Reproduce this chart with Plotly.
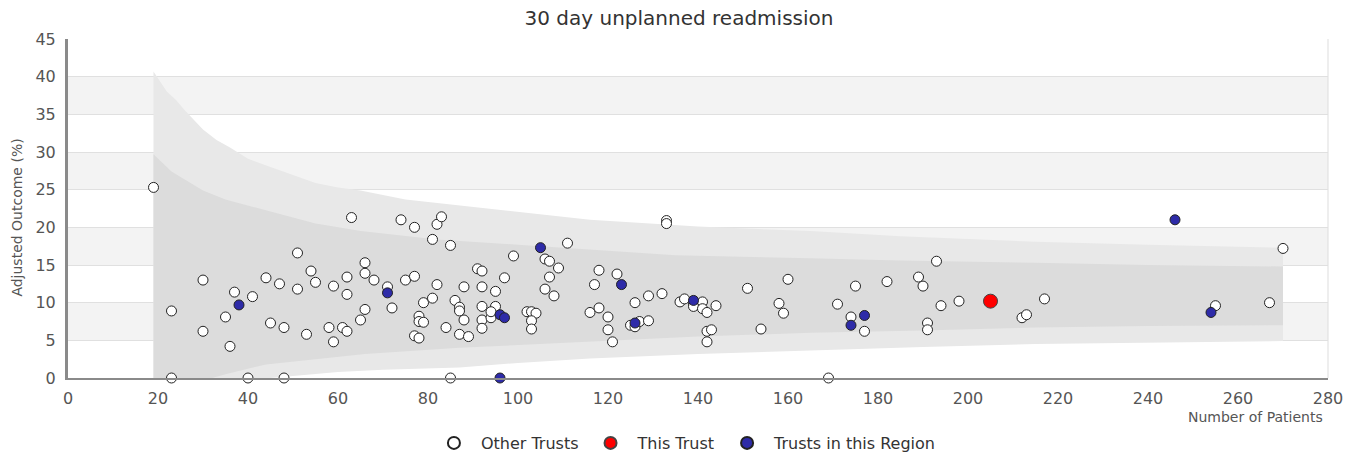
import plotly.graph_objects as go

# ---------------- data ----------------
other_n = [19, 23, 23, 30, 30, 35, 36, 37, 41, 40, 44, 45, 47, 48, 48, 51, 51, 53, 54, 55,
           58, 59, 59, 61, 62, 62, 62, 63, 65, 66, 66, 66, 68, 71, 72, 74, 75, 77, 77, 77,
           78, 78, 78, 79, 79, 81, 81, 82, 83, 82, 84, 85, 85, 86, 87, 87, 88, 88, 87, 89,
           91, 92, 92, 92, 92, 92, 95, 95, 94, 94, 97, 99, 102, 103, 104, 103, 103, 106, 107, 109,
           107, 106, 108, 111, 116, 117, 118, 118, 120, 120, 121, 122, 126, 125, 126, 127, 129, 129, 132, 133,
           133, 136, 137, 139, 139, 141, 141, 142, 142, 143, 142, 144, 151, 154, 158, 159, 160, 169, 171, 174,
           175, 177, 182, 189, 190, 193, 194, 191, 191, 198, 212, 213, 217, 255, 267, 270]
other_pct = [25.3, 8.9, 0.0, 13.0, 6.2, 8.1, 4.2, 11.4, 10.8, 0.0, 13.3, 7.3, 12.5, 6.7, 0.0, 16.6, 11.8, 5.8, 14.2, 12.7,
             6.7, 12.2, 4.8, 6.7, 6.2, 13.4, 11.1, 21.3, 7.7, 15.3, 13.9, 9.1, 13.0, 12.1, 9.3, 21.0, 13.0, 20.0, 13.5, 5.6,
             5.3, 8.2, 7.5, 7.4, 10.0, 18.4, 10.6, 20.4, 21.4, 12.4, 6.7, 17.6, 0.0, 10.3, 9.4, 8.9, 12.1, 7.7, 5.8, 5.5,
             14.5, 14.2, 12.1, 9.5, 7.7, 6.6, 11.5, 9.5, 8.0, 8.8, 13.3, 16.2, 8.8, 8.8, 8.6, 7.6, 6.5, 15.8, 15.5, 14.6,
             13.4, 11.8, 10.9, 17.9, 8.7, 12.4, 14.3, 9.3, 8.1, 6.4, 4.8, 13.8, 10.0, 7.0, 6.8, 7.5, 10.9, 7.6, 11.2, 20.9,
             20.5, 10.1, 10.5, 9.8, 9.5, 10.1, 9.2, 8.7, 6.2, 6.4, 4.8, 9.6, 11.9, 6.5, 9.9, 8.6, 13.1, 0.0, 9.8, 8.1,
             12.2, 6.2, 12.8, 13.4, 12.2, 15.5, 9.6, 7.3, 6.4, 10.2, 8.0, 8.4, 10.5, 9.6, 10.0, 17.2]

region_n = [38, 71, 96, 97, 96, 105, 123, 126, 139, 174, 177, 246, 254]
region_pct = [9.7, 11.3, 8.4, 8.0, 0.0, 17.3, 12.4, 7.3, 10.3, 7.0, 8.3, 21.0, 8.7]

this_n = [205]
this_pct = [10.2]

# funnel control limits
outer_upper_n = [19, 22, 24, 26, 30, 33, 36, 40, 45, 50, 55, 60, 65, 75, 90, 100, 116, 140, 165, 185, 215, 240, 270]
outer_upper = [40.7, 38.0, 36.9, 35.5, 33.0, 31.6, 30.6, 29.1, 28.0, 27.0, 25.9, 25.3, 24.9, 23.7, 22.7, 22.0,
               21.0, 20.1, 19.5, 18.8, 18.1, 17.7, 17.3]
outer_lower_n = [19, 45, 50, 60, 70, 87, 100, 116, 140, 165, 190, 215, 240, 270]
outer_lower = [0.0, 0.0, 0.3, 0.8, 1.1, 1.4, 2.0, 2.6, 3.2, 3.7, 4.1, 4.5, 4.7, 4.9]

inner_upper_n = [19, 23, 30, 35, 45, 55, 65, 82, 100, 116, 135, 165, 185, 215, 240, 270]
inner_upper = [29.7, 27.4, 24.9, 23.7, 22.1, 20.5, 19.5, 18.4, 17.7, 17.1, 16.3, 15.9, 15.6, 15.3, 15.0, 14.8]
inner_lower_n = [19, 32, 35, 44, 55, 66, 87, 100, 116, 140, 165, 190, 215, 240, 270]
inner_lower = [0.0, 0.0, 0.5, 1.8, 2.5, 3.2, 4.0, 4.4, 4.8, 5.5, 6.0, 6.3, 6.7, 6.9, 7.0]

band_starts = [5, 15, 25, 35]

x_ticks = list(range(0, 281, 20))
y_ticks = list(range(0, 46, 5))

FONT = "DejaVu Sans"

fig = go.Figure()

# outer funnel (99.8%)
fig.add_trace(go.Scatter(
    x=outer_upper_n + outer_lower_n[::-1],
    y=outer_upper + outer_lower[::-1],
    fill="toself", fillcolor="#e8e8e8", mode="lines", line=dict(width=0, color="#e8e8e8"),
    hoverinfo="skip", showlegend=False))
# inner funnel (95%)
fig.add_trace(go.Scatter(
    x=inner_upper_n + inner_lower_n[::-1],
    y=inner_upper + inner_lower[::-1],
    fill="toself", fillcolor="#dcdcdc", mode="lines", line=dict(width=0, color="#dcdcdc"),
    hoverinfo="skip", showlegend=False))

fig.add_trace(go.Scatter(
    x=other_n, y=other_pct, mode="markers", name="Other Trusts",
    marker=dict(size=10, color="white", line=dict(color="#222", width=1)), cliponaxis=False))
fig.add_trace(go.Scatter(
    x=this_n, y=this_pct, mode="markers", name="This Trust",
    marker=dict(size=14, color="#ff0000", line=dict(color="#444", width=1)), cliponaxis=False))
fig.add_trace(go.Scatter(
    x=region_n, y=region_pct, mode="markers", name="Trusts in this Region",
    marker=dict(size=10, color="#2e2ba8", line=dict(color="#222", width=1)), cliponaxis=False))

shapes = []
for b in band_starts:
    shapes.append(dict(type="rect", xref="paper", yref="y", x0=0, x1=1, y0=b, y1=b + 5,
                       fillcolor="#f3f3f3", line=dict(width=0), layer="below"))
shapes.append(dict(type="line", xref="paper", yref="paper", x0=1, x1=1, y0=0, y1=1,
                   line=dict(color="#dddddd", width=1), layer="below"))

fig.update_layout(
    width=1358, height=457, autosize=False,
    margin=dict(l=68, r=30, t=39, b=79),
    paper_bgcolor="white", plot_bgcolor="white",
    font=dict(family=FONT, color="#444"),
    title=dict(text="30 day unplanned readmission", x=0.5, xref="container", xanchor="center",
               y=1 - 18 / 457, yref="container", yanchor="middle",
               font=dict(family=FONT, size=20, color="#333")),
    shapes=shapes,
    showlegend=True,
    legend=dict(orientation="h", xref="container", x=0.504, xanchor="center",
                yref="container", y=1 - 443 / 457, yanchor="middle",
                itemwidth=44, itemsizing="constant",
                font=dict(family=FONT, size=16, color="#333"), bgcolor="rgba(0,0,0,0)"),
    annotations=[
        dict(text="Adjusted Outcome (%)", xref="paper", yref="paper", x=-0.0405, y=0.473,
             textangle=-90, showarrow=False, xanchor="center", yanchor="middle",
             font=dict(family=FONT, size=14, color="#555")),
        dict(text="Number of Patients", xref="paper", yref="paper", x=0.998, y=-0.116,
             showarrow=False, xanchor="right", yanchor="middle",
             font=dict(family=FONT, size=14, color="#555")),
    ],
)

fig.update_xaxes(range=[0, 280], tickvals=x_ticks, showgrid=False, zeroline=False,
                 showline=True, linecolor="#8a8a8a", linewidth=2,
                 ticks="outside", ticklen=5, tickcolor="rgba(0,0,0,0)",
                 tickfont=dict(family=FONT, size=16, color="#555"))
fig.update_yaxes(range=[0, 45], tickvals=y_ticks, showgrid=True, gridcolor="#e0e0e0", gridwidth=1,
                 zeroline=False, showline=True, linecolor="#8a8a8a", linewidth=3,
                 ticks="outside", ticklen=6, tickcolor="rgba(0,0,0,0)",
                 tickfont=dict(family=FONT, size=16, color="#555"))

fig.write_html("out.html", config={"displayModeBar": False},
               post_script="document.body.style.margin='0';document.body.style.overflow='hidden';")
